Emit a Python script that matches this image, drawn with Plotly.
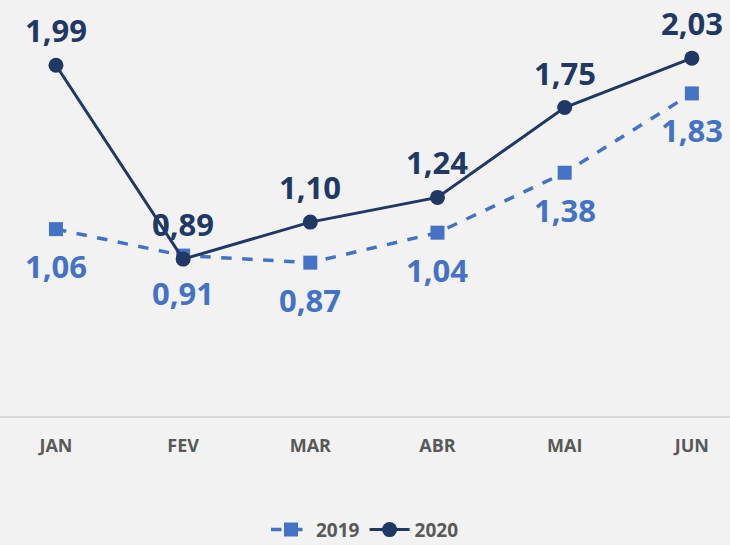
import plotly.graph_objects as go

months = ["JAN", "FEV", "MAR", "ABR", "MAI", "JUN"]
values_2019 = [1.06, 0.91, 0.87, 1.04, 1.38, 1.83]
values_2020 = [1.99, 0.89, 1.10, 1.24, 1.75, 2.03]

C2019 = "#4472C4"
C2020 = "#203864"
FONT = "Open Sans"


def fmt(v):
    return f"{v:.2f}".replace(".", ",")


x = list(range(len(months)))

fig = go.Figure()
fig.add_trace(go.Scatter(
    x=x, y=values_2019, name="2019", mode="lines+markers",
    line=dict(color=C2019, width=3.5, dash="dash"),
    marker=dict(symbol="square", size=14, color=C2019),
))
fig.add_trace(go.Scatter(
    x=x, y=values_2020, name="2020", mode="lines+markers",
    line=dict(color=C2020, width=3),
    marker=dict(symbol="circle", size=15, color=C2020),
))

for xi, v in zip(x, values_2019):
    fig.add_annotation(x=xi, y=v, text=fmt(v), showarrow=False, yshift=-37,
                       font=dict(family=FONT, size=31, color=C2019, weight="bold"))
for xi, v in zip(x, values_2020):
    fig.add_annotation(x=xi, y=v, text=fmt(v), showarrow=False, yshift=35,
                       font=dict(family=FONT, size=31, color=C2020, weight="bold"))

fig.update_layout(
    width=730, height=545,
    margin=dict(l=0, r=0, t=0, b=129),
    paper_bgcolor="#f2f2f2", plot_bgcolor="#f2f2f2",
    showlegend=True,
    legend=dict(orientation="h", x=0.5, xanchor="center",
                yref="container", y=0.028, yanchor="middle",
                font=dict(family=FONT, size=19, color="#595959", weight="bold"),
                itemwidth=40),
)
fig.update_xaxes(
    tickmode="array", tickvals=x, ticktext=months,
    range=[-0.44, 5.30], showgrid=False, zeroline=False,
    showline=True, linecolor="#d9d9d9", linewidth=1.5,
    ticks="", ticklabelstandoff=13,
    tickfont=dict(family=FONT, size=18, color="#595959", weight="bold"),
)
fig.update_yaxes(range=[0, 2.36], visible=False, showgrid=False, zeroline=False)

fig.write_html(
    "out.html",
    config={"displayModeBar": False},
    post_script="document.body.style.margin='0';document.body.style.background='#f2f2f2';",
)
